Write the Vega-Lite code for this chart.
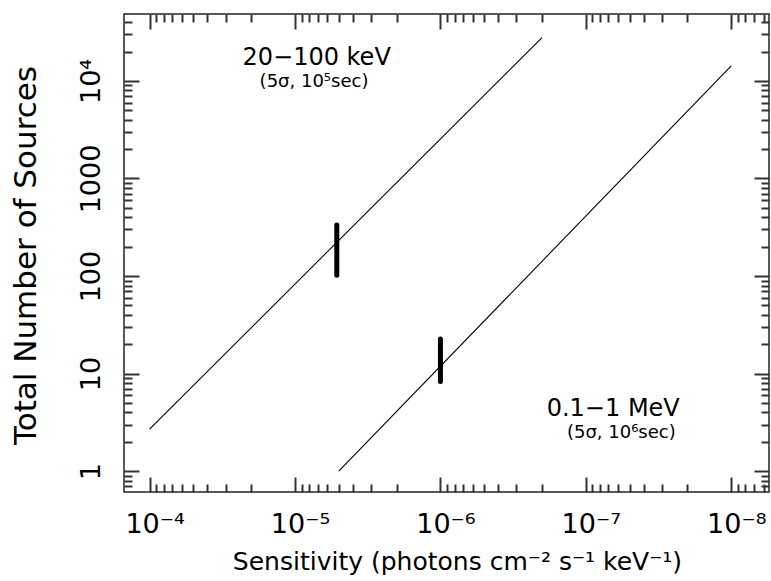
{
  "$schema": "https://vega.github.io/schema/vega-lite/v6.json",
  "width": 645,
  "height": 478,
  "autosize": {"type": "none"},
  "padding": {"left": 124, "top": 14, "right": 2, "bottom": 89},
  "config": {"view": {"stroke": "#222", "strokeWidth": 1.5}, "font": "DejaVu Sans"},
  "datasets": {
    "lines": [
      {"sensitivity": 1e-4, "sources": 2.7, "band": "20-100 keV"},
      {"sensitivity": 2e-7, "sources": 27800, "band": "20-100 keV"},
      {"sensitivity": 5e-6, "sources": 1, "band": "0.1-1 MeV"},
      {"sensitivity": 1e-8, "sources": 14250, "band": "0.1-1 MeV"}
    ],
    "bars": [
      {"sensitivity": 5.16e-6, "lo": 102, "hi": 333},
      {"sensitivity": 1e-6, "lo": 8.3, "hi": 22.6}
    ],
    "mainLabels": [
      {"sensitivity": 7.1e-6, "sources": 14480, "label": "20−100 keV"},
      {"sensitivity": 6.48e-8, "sources": 3.64, "label": "0.1−1 MeV"}
    ],
    "subLabels": [
      {"sensitivity": 7.4e-6, "sources": 8730, "label": "(5σ, 10⁵sec)"},
      {"sensitivity": 5.7e-8, "sources": 2.2, "label": "(5σ, 10⁶sec)"}
    ]
  },
  "resolve": {"axis": {"x": "independent", "y": "independent"}},
  "layer": [
    {
      "data": {"name": "lines"},
      "mark": {"type": "line", "color": "black", "strokeWidth": 1.1},
      "encoding": {
        "x": {
          "field": "sensitivity", "type": "quantitative",
          "scale": {"type": "log", "domain": [5.5e-9, 1.5e-4], "reverse": true, "nice": false},
          "axis": {
            "orient": "bottom", "domain": false, "grid": false, "zindex": 1,
            "values": [1e-4, 1e-5, 1e-6, 1e-7, 1e-8],
            "tickSize": -15, "tickColor": "#333", "tickWidth": 2,
            "labelExpr": "'10' + ['⁻⁸','⁻⁷','⁻⁶','⁻⁵','⁻⁴'][round(log(datum.value)/LN10) + 8]",
            "labelFontSize": 27, "labelBaseline": "alphabetic", "labelAlign": "center",
            "labelPadding": 55.5, "labelOffset": 5,
            "title": "Sensitivity (photons cm⁻² s⁻¹ keV⁻¹)",
            "titleFontSize": 25, "titleFontWeight": "normal",
            "titleX": 333, "titleY": 77.5, "titleBaseline": "alphabetic", "titleAlign": "center"
          }
        },
        "y": {
          "field": "sources", "type": "quantitative",
          "scale": {"type": "log", "domain": [0.612, 48500], "nice": false},
          "axis": {
            "orient": "left", "domain": false, "grid": false, "zindex": 1,
            "values": [1, 10, 100, 1000, 10000],
            "tickSize": -15, "tickColor": "#333", "tickWidth": 2,
            "labelExpr": "datum.value > 5000 ? '10⁴' : format(datum.value, 'd')",
            "labelFontSize": 27, "labelAngle": -90, "labelAlign": "center", "labelBaseline": "alphabetic",
            "labelPadding": 40,
            "title": "Total Number of Sources",
            "titleFontSize": 31, "titleFontWeight": "normal",
            "titleAngle": -90, "titleX": -89, "titleY": 241, "titleBaseline": "alphabetic", "titleAlign": "center"
          }
        },
        "detail": {"field": "band"}
      }
    },
    {
      "data": {"name": "bars"},
      "mark": {"type": "rule", "color": "black", "strokeWidth": 5, "strokeCap": "round"},
      "encoding": {
        "x": {
          "field": "sensitivity", "type": "quantitative",
          "scale": {"type": "log", "domain": [5.5e-9, 1.5e-4], "reverse": true, "nice": false},
          "axis": {
            "orient": "top", "domain": false, "grid": false, "labels": false, "title": null, "zindex": 1,
            "values": [1e-4, 1e-5, 1e-6, 1e-7, 1e-8],
            "tickSize": -15, "tickColor": "#333", "tickWidth": 2
          }
        },
        "y": {
          "field": "lo", "type": "quantitative",
          "scale": {"type": "log", "domain": [0.612, 48500], "nice": false},
          "axis": {
            "orient": "right", "domain": false, "grid": false, "labels": false, "title": null, "zindex": 1,
            "values": [1, 10, 100, 1000, 10000],
            "tickSize": -15, "tickColor": "#333", "tickWidth": 2
          }
        },
        "y2": {"field": "hi"}
      }
    },
    {
      "data": {"name": "mainLabels"},
      "mark": {"type": "text", "fontSize": 24, "color": "black", "align": "center", "baseline": "alphabetic"},
      "encoding": {
        "x": {
          "field": "sensitivity", "type": "quantitative",
          "scale": {"type": "log", "domain": [5.5e-9, 1.5e-4], "reverse": true, "nice": false},
          "axis": {
            "orient": "bottom", "domain": false, "grid": false, "labels": false, "title": null, "zindex": 1,
            "values": [9e-5, 8e-5, 7e-5, 6e-5, 5e-5, 4e-5, 3e-5, 2e-5, 9e-6, 8e-6, 7e-6, 6e-6, 5e-6, 4e-6, 3e-6, 2e-6, 9e-7, 8e-7, 7e-7, 6e-7, 5e-7, 4e-7, 3e-7, 2e-7, 9e-8, 8e-8, 7e-8, 6e-8, 5e-8, 4e-8, 3e-8, 2e-8, 9e-9, 8e-9, 7e-9, 6e-9],
            "tickSize": -8, "tickColor": "#333", "tickWidth": 2
          }
        },
        "y": {
          "field": "sources", "type": "quantitative",
          "scale": {"type": "log", "domain": [0.612, 48500], "nice": false},
          "axis": {
            "orient": "left", "domain": false, "grid": false, "labels": false, "title": null, "zindex": 1,
            "values": [0.7, 0.8, 0.9, 2, 3, 4, 5, 6, 7, 8, 9, 20, 30, 40, 50, 60, 70, 80, 90, 200, 300, 400, 500, 600, 700, 800, 900, 2000, 3000, 4000, 5000, 6000, 7000, 8000, 9000, 20000, 30000, 40000],
            "tickSize": -8, "tickColor": "#333", "tickWidth": 2
          }
        },
        "text": {"field": "label"}
      }
    },
    {
      "data": {"name": "subLabels"},
      "mark": {"type": "text", "fontSize": 18, "color": "black", "align": "center", "baseline": "alphabetic"},
      "encoding": {
        "x": {
          "field": "sensitivity", "type": "quantitative",
          "scale": {"type": "log", "domain": [5.5e-9, 1.5e-4], "reverse": true, "nice": false},
          "axis": {
            "orient": "top", "domain": false, "grid": false, "labels": false, "title": null, "zindex": 1,
            "values": [9e-5, 8e-5, 7e-5, 6e-5, 5e-5, 4e-5, 3e-5, 2e-5, 9e-6, 8e-6, 7e-6, 6e-6, 5e-6, 4e-6, 3e-6, 2e-6, 9e-7, 8e-7, 7e-7, 6e-7, 5e-7, 4e-7, 3e-7, 2e-7, 9e-8, 8e-8, 7e-8, 6e-8, 5e-8, 4e-8, 3e-8, 2e-8, 9e-9, 8e-9, 7e-9, 6e-9],
            "tickSize": -8, "tickColor": "#333", "tickWidth": 2
          }
        },
        "y": {
          "field": "sources", "type": "quantitative",
          "scale": {"type": "log", "domain": [0.612, 48500], "nice": false},
          "axis": {
            "orient": "right", "domain": false, "grid": false, "labels": false, "title": null, "zindex": 1,
            "values": [0.7, 0.8, 0.9, 2, 3, 4, 5, 6, 7, 8, 9, 20, 30, 40, 50, 60, 70, 80, 90, 200, 300, 400, 500, 600, 700, 800, 900, 2000, 3000, 4000, 5000, 6000, 7000, 8000, 9000, 20000, 30000, 40000],
            "tickSize": -8, "tickColor": "#333", "tickWidth": 2
          }
        },
        "text": {"field": "label"}
      }
    }
  ]
}
